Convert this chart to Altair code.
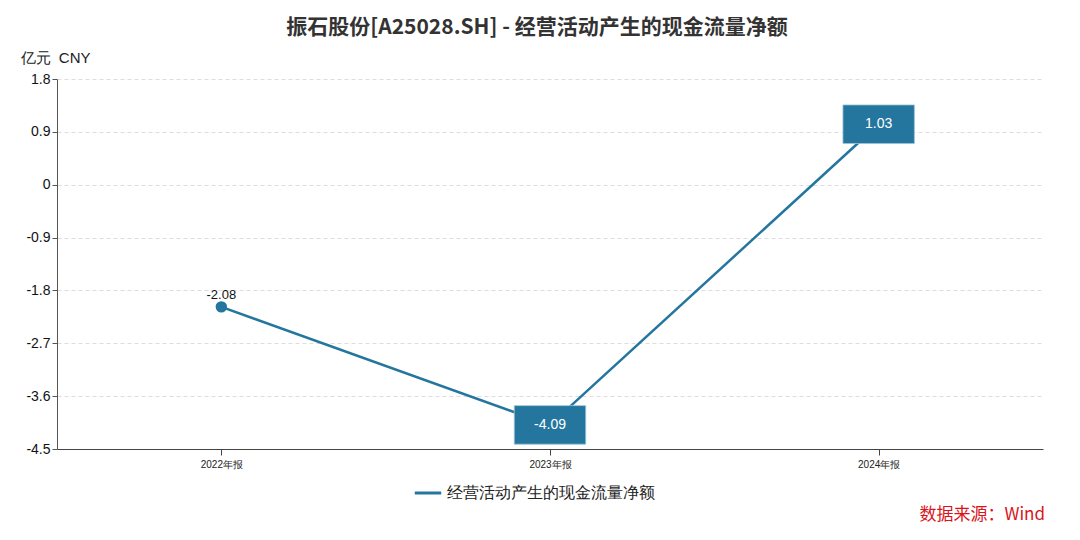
import altair as alt
import pandas as pd

categories = ["2022年报", "2023年报", "2024年报"]
values = [-2.08, -4.09, 1.03]
series_name = "经营活动产生的现金流量净额"
y_ticks = [-4.5, -3.6, -2.7, -1.8, -0.9, 0, 0.9, 1.8]

df = pd.DataFrame({"period": categories, "value": values, "series": [series_name] * 3})

COLOR = "#24769f"
FONT = "Liberation Sans"

x = alt.X("period:N", sort=categories, title=None,
          scale=alt.Scale(type="point", padding=0.5),
          axis=alt.Axis(labelAngle=0, labelFontSize=10, labelColor="#222", tickSize=6,
                        domainColor="#444", tickColor="#444", labelPadding=4, grid=False,
                        labelFont=FONT))
y = alt.Y("value:Q", title="亿元\u00a0\u00a0CNY",
          scale=alt.Scale(domain=[-4.5, 1.8], nice=False, zero=False),
          axis=alt.Axis(values=y_ticks, labelExpr="datum.value + ''", labelFontSize=14,
                        labelColor="#111", tickSize=5, domainColor="#555", tickColor="#555",
                        gridDash=[4, 3], gridColor="#dddddd", labelPadding=2,
                        titleAngle=0, titleX=-37, titleY=-22, titleAlign="left",
                        titleBaseline="middle", titleFontSize=15, titleFontWeight="normal",
                        titleColor="#222", labelFont=FONT, titleFont=FONT))

base = alt.Chart(df)

line = base.mark_line(strokeWidth=2.5).encode(
    x=x, y=y,
    color=alt.Color("series:N", scale=alt.Scale(range=[COLOR]), title=None,
                    legend=alt.Legend(orient="none", legendX=356, legendY=399,
                                      symbolType="stroke", symbolSize=700,
                                      symbolStrokeWidth=3, labelFontSize=16,
                                      labelLimit=400,
                                      labelColor="#222", labelFont=FONT))
)

first = base.transform_filter(alt.datum.period == categories[0])
rest = base.transform_filter(alt.datum.period != categories[0])

dot = first.mark_point(filled=True, size=130, opacity=1, color=COLOR).encode(x=x, y=y)
dot_label = first.transform_calculate(lbl="toString(datum.value)").mark_text(
    dy=-12, fontSize=13, color="#111", font=FONT).encode(x=x, y=y, text="lbl:N")

box = rest.mark_point(filled=True, opacity=1, color=COLOR, stroke="#9cc3d8", strokeWidth=0.8,
                      shape="M-1,-0.54L1,-0.54L1,0.54L-1,0.54Z", size=5100).encode(x=x, y=y)
box_label = rest.transform_calculate(lbl="toString(datum.value)").mark_text(
    fontSize=14, color="white", font=FONT).encode(x=x, y=y, text="lbl:N")

source = alt.Chart(pd.DataFrame({"t": ["数据来源：Wind"]})).mark_text(
    align="right", baseline="middle", fontSize=17, color="#d9141b", font="Noto Sans CJK SC"
).encode(x=alt.value(988), y=alt.value(436), text="t:N")

chart = alt.layer(line, dot, dot_label, box, box_label, source).properties(
    width=986, height=370,
    title=alt.TitleParams("振石股份[A25028.SH] - 经营活动产生的现金流量净额", fontSize=21,
                          fontWeight="bold", color="#333", anchor="middle", dx=-13,
                          offset=12, font="Noto Sans CJK SC"),
    autosize=alt.AutoSizeParams(type="none"),
    padding={"left": 49, "top": 71, "right": 29, "bottom": 80},
    background="white",
).configure_view(stroke=None)

chart.save("out.html", embed_options={"renderer": "svg", "actions": False})
